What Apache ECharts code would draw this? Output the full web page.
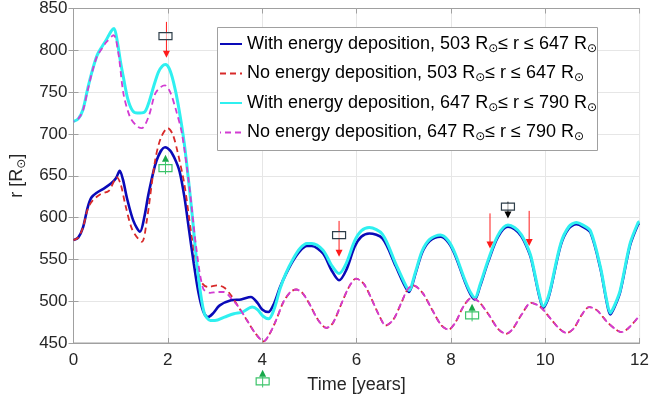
<!DOCTYPE html>
<html><head><meta charset="utf-8">
<script src="https://cdn.jsdelivr.net/npm/echarts@6/dist/echarts.min.js"></script>
<style>html,body{margin:0;padding:0;background:#fff}#c{width:652px;height:403px}</style>
</head><body><div id="c"></div>
<script>
// ---- data ----
const seriesNames = [
  'With energy deposition, 503 R⊙≤ r ≤ 647 R⊙',
  'No energy deposition, 503 R⊙≤ r ≤ 647 R⊙',
  'With energy deposition, 647 R⊙≤ r ≤ 790 R⊙',
  'No energy deposition, 647 R⊙≤ r ≤ 790 R⊙'
];
const xTicks = [0, 2, 4, 6, 8, 10, 12];
const yTicks = [450, 500, 550, 600, 650, 700, 750, 800, 850];

const blueT = [0,0.1,0.2,0.3,0.38,0.5,0.65,0.8,0.9,0.98,1.05,1.13,1.27,1.41,1.5,1.59,1.76,1.94,2.05,2.15,2.25,2.35,2.45,2.55,2.65,2.75,2.85,2.95,3.1,3.34,3.55,3.76,3.9,4.0,4.13,4.25,4.38,4.5,4.65,4.8,4.95,5.05,5.29,5.47,5.63,5.78,5.96,6.1,6.27,6.55,6.83,7.0,7.11,7.25,7.39,7.55,7.78,7.95,8.09,8.3,8.42,8.51,8.62,8.79,9.0,9.21,9.35,9.49,9.6,9.7,9.87,9.96,10.05,10.12,10.33,10.5,10.66,10.8,10.96,11.17,11.3,11.38,11.47,11.59,11.8,11.97,12];
const blueV = [573,576,588,612,624,630,635,641,647,656,645,624,596,583,600,628,668,684,680,670,655,625,585,545,510,488,481,485,495,501,502,505,498,490,487,497,517,532,548,560,566,566,557,537,525,537,565,577,581,575,542,521,511,533,558,572,577,570,555,523,508,502,518,547,577,589,586,578,566,551,507,492,501,515,567,587,592,589,582,539,500,484,493,511,567,592,593];

const redT = [0,0.1,0.2,0.3,0.4,0.57,0.75,0.92,1.0,1.1,1.25,1.45,1.55,1.73,1.85,2.0,2.1,2.2,2.35,2.5,2.62,2.72,2.85,3.05,3.2,3.34,3.5,3.68,3.85,4.03,4.15,4.3,4.45,4.6,4.72,4.85,5.0,5.18,5.36,5.5,5.68,5.85,5.99,6.15,6.3,6.47,6.62,6.78,6.95,7.08,7.2,7.4,7.6,7.8,7.95,8.1,8.27,8.44,8.6,8.8,9.0,9.17,9.3,9.5,9.7,9.9,10.1,10.3,10.45,10.6,10.78,10.93,11.1,11.3,11.5,11.62,11.75,11.9,12];
const redV = [573,576,588,610,620,628,632,648,640,615,585,571,595,668,695,707,700,680,640,580,540,522,517,519,516,507,493,477,462,452,460,478,499,511,514,510,497,478,468,474,497,518,527,521,505,484,471,478,498,514,519,510,490,471,466,475,494,504,499,484,467,461,466,484,498,493,480,467,462,467,484,493,489,476,466,463,467,476,483];

const cyanT = [0,0.1,0.2,0.3,0.4,0.5,0.6,0.7,0.8,0.86,0.93,1.0,1.06,1.15,1.25,1.35,1.5,1.6,1.7,1.8,1.88,1.95,2.03,2.12,2.22,2.35,2.5,2.64,2.77,2.9,3.0,3.2,3.4,3.58,3.79,3.9,4.02,4.14,4.25,4.38,4.5,4.65,4.8,4.95,5.05,5.29,5.47,5.63,5.78,5.96,6.1,6.27,6.55,6.83,7.0,7.11,7.25,7.39,7.55,7.78,7.95,8.09,8.3,8.42,8.51,8.62,8.79,9.0,9.21,9.35,9.49,9.6,9.7,9.87,9.96,10.05,10.12,10.33,10.5,10.66,10.8,10.96,11.17,11.3,11.38,11.47,11.59,11.8,11.97,12];
const cyanV = [715,718,729,754,776,794,804,813,823,826,810,785,767,742,728,725,726,738,757,774,781,783,778,762,735,688,612,533,486,477,477,481,485,487,493,490,482,479,490,515,533,550,563,569,569,561,543,533,545,572,584,588,580,545,524,513,535,560,574,579,572,557,525,510,504,520,549,579,591,588,580,568,553,509,494,503,517,569,589,594,591,584,541,502,486,495,513,569,594,595];

const magT = [0,0.1,0.2,0.3,0.4,0.5,0.6,0.7,0.85,0.95,1.06,1.2,1.35,1.45,1.6,1.73,1.85,1.94,2.05,2.18,2.3,2.45,2.6,2.75,2.9,3.05,3.19,3.35,3.5,3.68,3.85,4.03,4.15,4.3,4.45,4.6,4.72,4.85,5.0,5.18,5.36,5.5,5.68,5.85,5.99,6.15,6.3,6.47,6.62,6.78,6.95,7.08,7.2,7.4,7.6,7.8,7.95,8.1,8.27,8.44,8.6,8.8,9.0,9.17,9.3,9.5,9.7,9.9,10.1,10.3,10.45,10.6,10.78,10.93,11.1,11.3,11.5,11.62,11.75,11.9,12];
const magV = [715,718,728,752,775,793,802,810,818,797,748,720,709,707,722,748,756,758,750,727,700,640,565,515,510,511,511,503,493,477,462,452,460,478,499,511,514,510,497,478,468,474,497,518,527,521,505,484,471,478,498,514,519,510,490,471,466,475,494,504,499,484,467,461,466,484,498,493,480,467,462,467,484,493,489,476,466,463,467,476,483];

// annotation marks: [time, yStart, yTip]
const redArrows = [[1.97, 834, 791], [5.63, 596, 553], [8.83, 605, 563], [9.66, 608, 566]];
// [time, yBoxCentre, yArrowTip or null]
const blackBoxes = [[1.95, 817, null], [5.63, 579, null], [9.21, 613, 599]];
// [time, yTip, yBoxCentre]
const greenMarks = [[1.95, 675, 659], [4.01, 418, 404], [8.45, 497, 483]];

// ---- chart ----
const pairs = (t, v) => t.map((x, i) => [x, v[i]]);
const chart = echarts.init(document.getElementById('c'));
const FONT = 'Liberation Sans, Arial, sans-serif';

function redArrow(params, api) {
  const a = api.coord([api.value(0), api.value(1)]);
  const b = api.coord([api.value(0), api.value(2)]);
  return {type: 'group', children: [
    {type: 'line', shape: {x1: a[0], y1: a[1], x2: b[0], y2: b[1] - 6}, style: {stroke: '#ff1a1a', lineWidth: 1}},
    {type: 'polygon', shape: {points: [[b[0] - 3.5, b[1] - 7], [b[0] + 3.5, b[1] - 7], [b[0], b[1]]]}, style: {fill: '#ff1a1a'}}
  ]};
}
function blackBox(params, api) {
  const c = api.coord([api.value(0), api.value(1)]);
  const children = [];
  const tip = api.value(2);
  if (tip !== null && !isNaN(tip)) {
    const b = api.coord([api.value(0), tip]);
    children.push({type: 'line', shape: {x1: c[0], y1: c[1] - 5, x2: c[0], y2: b[1] - 6}, style: {stroke: '#000', lineWidth: 1}});
    children.push({type: 'polygon', shape: {points: [[b[0] - 3.5, b[1] - 7], [b[0] + 3.5, b[1] - 7], [b[0], b[1]]]}, style: {fill: '#000'}});
  }
  children.push({type: 'rect', shape: {x: c[0] - 6.5, y: c[1] - 3.5, width: 13, height: 7}, style: {stroke: '#2f3f4a', fill: 'rgba(255,255,255,0.6)', lineWidth: 1.2}});
  return {type: 'group', children};
}
function greenMark(params, api) {
  const t = api.coord([api.value(0), api.value(1)]);
  const c = api.coord([api.value(0), api.value(2)]);
  return {type: 'group', children: [
    {type: 'polygon', shape: {points: [[t[0] - 3.5, t[1] + 7], [t[0] + 3.5, t[1] + 7], [t[0], t[1]]]}, style: {fill: '#18a84a'}},
    {type: 'line', shape: {x1: t[0], y1: t[1] + 6, x2: t[0], y2: c[1] + 6}, style: {stroke: '#3cc46a', lineWidth: 1}},
    {type: 'rect', shape: {x: c[0] - 6.5, y: c[1] - 3.5, width: 13, height: 7}, style: {stroke: '#3cc46a', fill: 'none', lineWidth: 1.2}}
  ]};
}

const lineBase = {type: 'line', smooth: 0.3, showSymbol: false, symbol: 'none', animation: false, xAxisIndex: 0, yAxisIndex: 0};
const option = {
  animation: false,
  textStyle: {fontFamily: FONT},
  grid: {left: 71, right: 9, top: 7, bottom: 60, show: true, borderColor: '#a0a0a0', borderWidth: 1},
  graphic: [{type: 'rect', left: 217, top: 27, z: 30, shape: {width: 380, height: 123},
    style: {fill: '#fff', stroke: '#a0a0a0', lineWidth: 1}}],
  legend: {
    data: seriesNames, orient: 'vertical', left: 217, top: 27, z: 40,
    backgroundColor: 'transparent', borderWidth: 0,
    padding: [8, 3, 7, 2], itemGap: 10, itemWidth: 22, itemHeight: 14,
    itemStyle: {opacity: 0},
    textStyle: {fontSize: 18, color: '#000', fontFamily: FONT,
      rich: {s: {fontSize: 12, padding: [9, 0, 0, 0], color: '#000', fontFamily: 'DejaVu Sans'}}},
    formatter: n => n.replace(/⊙/g, '{s|⊙}')
  },
  xAxis: [{
    type: 'value', min: 0, max: 12, interval: 2,
    name: 'Time [years]', nameLocation: 'middle', nameGap: 33,
    nameTextStyle: {fontSize: 18, color: '#262626', fontFamily: FONT},
    axisLine: {show: true, lineStyle: {color: '#a0a0a0'}},
    axisTick: {show: true, inside: true, length: 5, lineStyle: {color: '#a0a0a0'}},
    axisLabel: {fontSize: 17, color: '#262626', margin: 9, fontFamily: FONT},
    splitLine: {show: true, lineStyle: {color: '#e6e6e6'}}
  }, {
    type: 'value', min: 0, max: 12, interval: 2, position: 'top',
    axisLine: {show: true, lineStyle: {color: '#a0a0a0'}},
    axisTick: {show: true, inside: true, length: 5, lineStyle: {color: '#a0a0a0'}},
    axisLabel: {show: false}, splitLine: {show: false}
  }],
  yAxis: [{
    type: 'value', min: 450, max: 850, interval: 50,
    name: 'r [R{s|⊙}]', nameLocation: 'middle', nameGap: 46, nameRotate: 90,
    nameTextStyle: {fontSize: 18, color: '#262626', fontFamily: FONT,
      rich: {s: {fontSize: 12, padding: [9, 0, 0, 0], color: '#262626', fontFamily: 'DejaVu Sans'}}},
    axisLine: {show: true, lineStyle: {color: '#a0a0a0'}},
    axisTick: {show: true, inside: true, length: 5, lineStyle: {color: '#a0a0a0'}},
    axisLabel: {fontSize: 17, color: '#262626', margin: 6, fontFamily: FONT},
    splitLine: {show: true, lineStyle: {color: '#e6e6e6'}}
  }, {
    type: 'value', min: 450, max: 850, interval: 50, position: 'right',
    axisLine: {show: true, lineStyle: {color: '#a0a0a0'}},
    axisTick: {show: true, inside: true, length: 5, lineStyle: {color: '#a0a0a0'}},
    axisLabel: {show: false}, splitLine: {show: false}
  }],
  series: [
    Object.assign({}, lineBase, {name: seriesNames[0], data: pairs(blueT, blueV), color: '#0a0ab8', lineStyle: {width: 2.6, color: '#0a0ab8'}, z: 2}),
    Object.assign({}, lineBase, {name: seriesNames[1], data: pairs(redT, redV), color: '#d82a2a', lineStyle: {width: 1.8, color: '#d82a2a', type: [6, 4]}, z: 3}),
    Object.assign({}, lineBase, {name: seriesNames[2], data: pairs(cyanT, cyanV), color: '#2ff0f0', lineStyle: {width: 3, color: '#2ff0f0'}, z: 4}),
    Object.assign({}, lineBase, {name: seriesNames[3], data: pairs(magT, magV), color: '#d23cd2', lineStyle: {width: 1.8, color: '#d23cd2', type: [6, 4], dashOffset: 5}, z: 5}),
    {type: 'custom', name: 'ra', data: redArrows, renderItem: redArrow, clip: false, z: 10, silent: true},
    {type: 'custom', name: 'bb', data: blackBoxes, renderItem: blackBox, clip: false, z: 10, silent: true},
    {type: 'custom', name: 'gm', data: greenMarks, renderItem: greenMark, clip: false, z: 10, silent: true}
  ]
};
chart.setOption(option);
</script>
</body></html>
